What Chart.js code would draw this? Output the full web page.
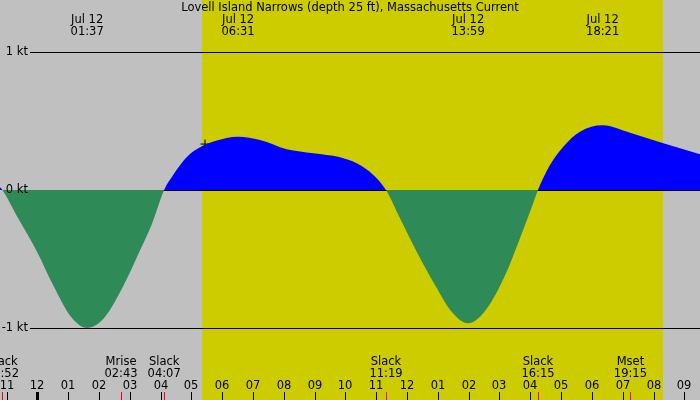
<!DOCTYPE html>
<html><head><meta charset="utf-8">
<script src="https://cdn.jsdelivr.net/npm/chart.js@4.4.1/dist/chart.umd.min.js"></script>
<style>html,body{margin:0;padding:0;background:#c0c0c0;overflow:hidden}#wrap{width:700px;height:400px}</style>
</head><body><div id="wrap"><canvas id="c" width="700" height="400"></canvas></div>
<script>
// ---- data (hours after midnight, Jul 12; knots) ----
const chartTitle = "Lovell Island Narrows (depth 25 ft), Massachusetts Current";
const flowHours = [-1.211, -1.133, -0.626, -0.010, 0.510, 1.126, 1.617, 2.169, 2.782, 3.268, 3.723, 4.117,
  4.414, 4.632, 4.953, 5.282, 5.768, 6.517, 7.228, 8.095, 8.958, 9.825, 10.367, 10.906, 11.317,
  11.772, 12.314, 12.908, 13.450, 13.983, 14.586, 15.180, 15.645, 16.047, 16.250,
  16.640, 17.072, 17.614, 18.350, 19.237, 20.318, 21.509];
const flowKnots = [0.02, 0, -0.203, -0.447, -0.688, -0.928, -1.0, -0.928, -0.70, -0.47, -0.245, 0,
  0.11, 0.18, 0.26, 0.31, 0.355, 0.386, 0.362, 0.295, 0.266, 0.237, 0.193, 0.109, 0,
  -0.205, -0.447, -0.688, -0.882, -0.966, -0.86, -0.62, -0.362, -0.125, 0,
  0.181, 0.314, 0.423, 0.469, 0.415, 0.338, 0.259];
const extremeHours = [1.617, 6.517, 13.983, 18.350];
const extremeDates = ["Jul 12", "Jul 12", "Jul 12", "Jul 12"];
const extremeTimes = ["01:37", "06:31", "13:59", "18:21"];
const eventHours = [-1.133, 2.717, 4.117, 11.317, 16.250, 19.250];
const eventNames = ["Slack", "Mrise", "Slack", "Slack", "Slack", "Mset"];
const eventTimes = ["22:52", "02:43", "04:07", "11:19", "16:15", "19:15"];
const hourTicks = [-1,0,1,2,3,4,5,6,7,8,9,10,11,12,13,14,15,16,17,18,19,20,21];
const hourLabels = ["11","12","01","02","03","04","05","06","07","08","09","10","11","12","01","02","03","04","05","06","07","08","09"];
const daylightHours = [5.35, 20.31];
const markerHours = [5.443];
const markerKnots = [0.333];
const knotTicks = [1, 0, -1];
const knotLabels = ["1 kt", "0 kt", "-1 kt"];
const xRange = [-1.211, 21.509];
const yRange = [-1.5217, 1.3768];

const FONT = '11.5px "DejaVu Sans"';
const decor = {
  id: 'decor',
  beforeDraw(chart) {
    const ctx = chart.ctx, x = chart.scales.x;
    ctx.save();
    ctx.fillStyle = '#c0c0c0';
    ctx.fillRect(0, 0, chart.width, chart.height);
    const x0 = Math.round(x.getPixelForValue(daylightHours[0]));
    const x1 = Math.round(x.getPixelForValue(daylightHours[1]));
    ctx.fillStyle = '#cccc00';
    ctx.fillRect(x0, 0, x1 - x0, chart.height);
    ctx.restore();
  },
  beforeDatasetsDraw(chart) {
    const ctx = chart.ctx, y = chart.scales.y;
    ctx.save();
    ctx.strokeStyle = '#000'; ctx.lineWidth = 1;
    knotTicks.forEach((v) => {
      const py = Math.round(y.getPixelForValue(v)) + 0.5;
      ctx.beginPath(); ctx.moveTo(30, py); ctx.lineTo(chart.width, py); ctx.stroke();
    });
    ctx.restore();
  },
  afterDatasetsDraw(chart) {
    const ctx = chart.ctx, x = chart.scales.x, y = chart.scales.y;
    ctx.save();
    ctx.font = FONT; ctx.fillStyle = '#000';
    ctx.textBaseline = 'middle';
    ctx.textAlign = 'right';
    knotTicks.forEach((v, i) => {
      ctx.fillText(knotLabels[i], 28, Math.round(y.getPixelForValue(v)));
    });
    ctx.textAlign = 'center';
    ctx.fillText(chartTitle, 350, 8);
    extremeHours.forEach((h, i) => {
      const px = x.getPixelForValue(h);
      ctx.fillText(extremeDates[i], px, 20);
      ctx.fillText(extremeTimes[i], px, 32);
    });
    eventHours.forEach((h, i) => {
      const px = x.getPixelForValue(h);
      ctx.fillText(eventNames[i], px, 362);
      ctx.fillText(eventTimes[i], px, 374);
    });
    hourTicks.forEach((h, i) => {
      const px = Math.round(x.getPixelForValue(h));
      ctx.fillStyle = '#000';
      ctx.fillText(hourLabels[i], px, 386);
      ctx.fillRect(px - (h === 0 ? 1 : 0), 392, h === 0 ? 3 : 1, 8);
    });
    ctx.fillStyle = '#ff0000';
    eventHours.forEach((h) => {
      const px = Math.round(x.getPixelForValue(h));
      ctx.fillRect(px, 392, 1, 8);
    });
    ctx.restore();
  }
};

new Chart(document.getElementById('c'), {
  type: 'line',
  data: {
    datasets: [{
      data: flowHours.map((h, i) => ({x: h, y: flowKnots[i]})),
      borderColor: 'rgba(0,0,0,0)', borderWidth: 0, pointRadius: 0,
      cubicInterpolationMode: 'monotone',
      fill: {target: {value: 0}, above: '#0000ff', below: '#2e8b57'}
    }, {
      data: markerHours.map((h, i) => ({x: h, y: markerKnots[i]})),
      showLine: false, pointStyle: 'cross', pointRadius: 4.5,
      borderColor: '#000', borderWidth: 1, fill: false
    }]
  },
  options: {
    responsive: false, devicePixelRatio: 1, animation: false,
    layout: {padding: 0, autoPadding: false},
    plugins: {legend: {display: false}, tooltip: {enabled: false}, title: {display: false}},
    scales: {
      x: {type: 'linear', min: xRange[0], max: xRange[1], display: false},
      y: {type: 'linear', min: yRange[0], max: yRange[1], display: false}
    }
  },
  plugins: [decor]
});
</script></body></html>
